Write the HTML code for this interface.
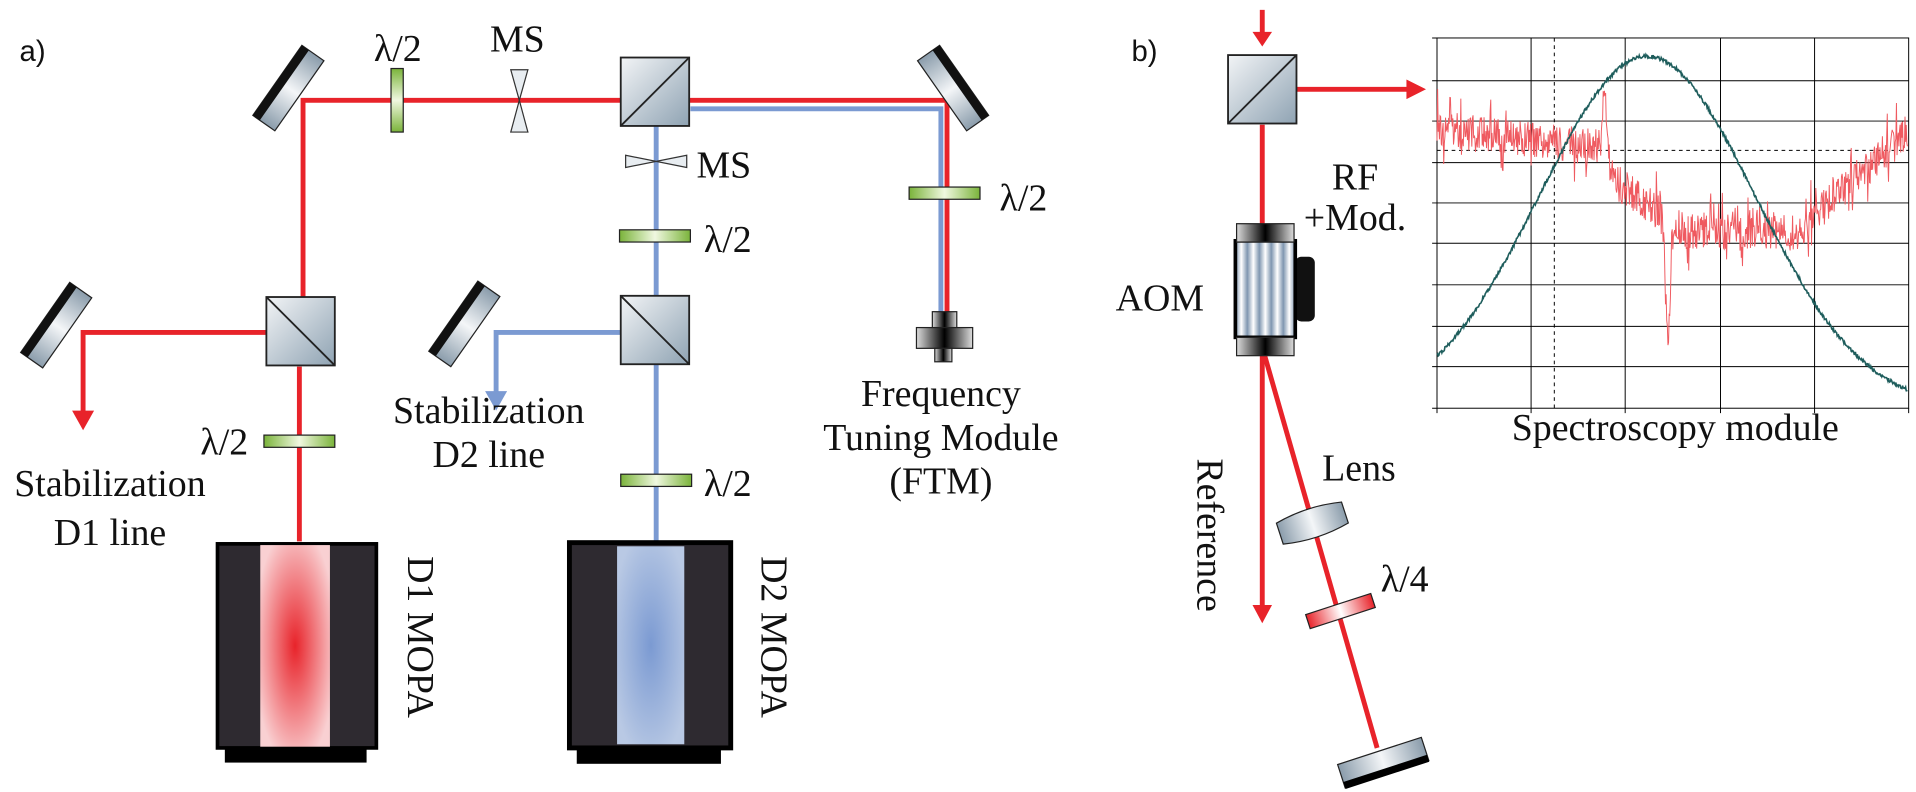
<!DOCTYPE html>
<html><head><meta charset="utf-8"><style>
html,body{margin:0;padding:0;background:#fff;}
svg{display:block;}
.t{font-family:"Liberation Serif",serif;font-size:31px;fill:#111;}
.s{font-family:"Liberation Sans",sans-serif;font-size:24px;fill:#111;}
</style></head><body>
<svg id="sv" width="1916" height="792" viewBox="0 0 1568 648" xmlns="http://www.w3.org/2000/svg">
<defs>
<linearGradient id="cube" x1="0" y1="0" x2="1" y2="1"><stop offset="0" stop-color="#f2f4f6"/><stop offset="1" stop-color="#8fa3b3"/></linearGradient>
<linearGradient id="mir" x1="0" y1="0" x2="1" y2="0"><stop offset="0" stop-color="#8a9cab"/><stop offset=".5" stop-color="#f4f6f8"/><stop offset="1" stop-color="#8a9cab"/></linearGradient>
<linearGradient id="grn" x1="0" y1="0" x2="1" y2="0"><stop offset="0" stop-color="#7ab33a"/><stop offset=".5" stop-color="#f0f8e0"/><stop offset="1" stop-color="#7ab33a"/></linearGradient>
<linearGradient id="grnv" x1="0" y1="0" x2="0" y2="1"><stop offset="0" stop-color="#7ab33a"/><stop offset=".5" stop-color="#f0f8e0"/><stop offset="1" stop-color="#7ab33a"/></linearGradient>
<linearGradient id="redp" x1="0" y1="0" x2="1" y2="0"><stop offset="0" stop-color="#e8232a"/><stop offset=".5" stop-color="#fff"/><stop offset="1" stop-color="#e8232a"/></linearGradient>
<radialGradient id="rband" cx=".5" cy=".5" r=".6"><stop offset="0" stop-color="#e8232a"/><stop offset="1" stop-color="#f9d0d2"/></radialGradient>
<radialGradient id="bband" cx=".5" cy=".5" r=".6"><stop offset="0" stop-color="#7b9ad2"/><stop offset="1" stop-color="#b9c9e4"/></radialGradient>
<linearGradient id="blk" x1="0" y1="0" x2="1" y2="0"><stop offset="0" stop-color="#ddd"/><stop offset=".5" stop-color="#000"/><stop offset="1" stop-color="#ddd"/></linearGradient>
<linearGradient id="aom" x1="0" y1="0" x2="1" y2="0"><stop offset="0" stop-color="#7f96b0"/><stop offset=".1" stop-color="#fff"/><stop offset=".2" stop-color="#7f96b0"/><stop offset=".3" stop-color="#fff"/><stop offset=".4" stop-color="#7f96b0"/><stop offset=".5" stop-color="#fff"/><stop offset=".6" stop-color="#7f96b0"/><stop offset=".7" stop-color="#fff"/><stop offset=".8" stop-color="#7f96b0"/><stop offset=".9" stop-color="#fff"/><stop offset="1" stop-color="#7f96b0"/></linearGradient>
<g id="mirror"><rect x="-35" y="-11" width="70" height="22" fill="url(#mir)" stroke="#222" stroke-width="1"/><rect x="-35" y="-11" width="70" height="7" fill="#111"/></g>
<g id="cubeS"><rect x="0" y="0" width="56" height="56" fill="url(#cube)" stroke="#222" stroke-width="1.5"/></g>
</defs>
<text class="s" x="16" y="50">a)</text>
<text class="s" x="926" y="50">b)</text>

<g fill="none" stroke-width="4">
<path d="M565 89 H770 V255" stroke="#7b9ad2"/>
<path d="M248 270 V82 H775 V255" stroke="#e8232a"/>
<path d="M537 103 V443" stroke="#7b9ad2"/>
<path d="M508 272 H406 V322" stroke="#7b9ad2"/>
<path d="M218 272 H68 V338" stroke="#e8232a"/>
<path d="M245 300 V443" stroke="#e8232a"/>
</g>
<polygon points="397,320 415,320 406,336" fill="#7b9ad2"/>
<polygon points="59,336 77,336 68,352" fill="#e8232a"/>

<use href="#mirror" transform="translate(236,72) rotate(-55)"/>
<use href="#mirror" transform="translate(780,72) rotate(55) scale(-1,1)"/>
<use href="#mirror" transform="translate(380,265) rotate(-55)"/>
<use href="#mirror" transform="translate(46,266) rotate(-55)"/>

<use href="#cubeS" transform="translate(508,47)"/><line x1="508" y1="103" x2="564" y2="47" stroke="#222" stroke-width="1.5"/>
<use href="#cubeS" transform="translate(508,242)"/><line x1="508" y1="242" x2="564" y2="298" stroke="#222" stroke-width="1.5"/>
<use href="#cubeS" transform="translate(218,243)"/><line x1="218" y1="243" x2="274" y2="299" stroke="#222" stroke-width="1.5"/>

<rect x="320" y="56" width="10" height="52" fill="url(#grnv)" stroke="#222"/>
<rect x="744" y="153" width="58" height="10" fill="url(#grn)" stroke="#222"/>
<rect x="507" y="188" width="58" height="10" fill="url(#grn)" stroke="#222"/>
<rect x="508" y="388" width="58" height="10" fill="url(#grn)" stroke="#222"/>
<rect x="216" y="356" width="58" height="10" fill="url(#grn)" stroke="#222"/>
<polygon points="418,57 432,57 425,82 432,108 418,108 425,82" fill="#e8edf1" stroke="#333"/>
<polygon points="512,127 512,137 537,132 562,137 562,127 537,132" fill="#e8edf1" stroke="#333"/>

<text class="t" x="306" y="50">λ/2</text>
<text class="t" x="401" y="42">MS</text>
<text class="t" x="570" y="145">MS</text>
<text class="t" x="576" y="206">λ/2</text>
<text class="t" x="576" y="406">λ/2</text>
<text class="t" x="818" y="172">λ/2</text>
<text class="t" x="164" y="372">λ/2</text>

<rect x="763" y="255" width="20" height="14" fill="url(#blk)" stroke="#222"/>
<rect x="750" y="268" width="46" height="17" fill="url(#blk)" stroke="#222"/>
<rect x="765" y="285" width="14" height="11" fill="url(#blk)" stroke="#222"/>
<g class="t" text-anchor="middle">
<text x="770" y="332">Frequency</text>
<text x="770" y="368">Tuning Module</text>
<text x="770" y="404">(FTM)</text>
<text x="400" y="346">Stabilization</text>
<text x="400" y="382">D2 line</text>
<text x="90" y="406">Stabilization</text>
<text x="90" y="446">D1 line</text>
</g>

<rect x="178" y="445" width="130" height="167" fill="#2e2a30" stroke="#000" stroke-width="3"/>
<rect x="213" y="446" width="57" height="165" fill="url(#rband)"/>
<rect x="184" y="612" width="116" height="12" fill="#000"/>
<rect x="466" y="444" width="132" height="168" fill="#2e2a30" stroke="#000" stroke-width="4"/>
<rect x="505" y="447" width="55" height="162" fill="url(#bband)"/>
<rect x="472" y="612" width="118" height="13" fill="#000"/>
<text class="t" transform="translate(334,455) rotate(90)">D1 MOPA</text>
<text class="t" transform="translate(623,455) rotate(90)">D2 MOPA</text>

<g fill="none" stroke="#e8232a" stroke-width="4">
<path d="M1033 8 V28"/>
<path d="M1033 102 V183"/>
<path d="M1061 73 H1153"/>
<path d="M1033 291 V497"/>
<path d="M1035 291 L1127 612"/>
</g>
<polygon points="1025,26 1041,26 1033,38" fill="#e8232a"/>
<polygon points="1151,65 1151,81 1167,73" fill="#e8232a"/>
<polygon points="1025,495 1041,495 1033,510" fill="#e8232a"/>
<use href="#cubeS" transform="translate(1005,45)"/><line x1="1005" y1="101" x2="1061" y2="45" stroke="#222" stroke-width="1.5"/>
<rect x="1060" y="210" width="16" height="53" rx="5" fill="#111"/>
<rect x="1011" y="197" width="49" height="79" fill="url(#aom)" stroke="#000" stroke-width="3"/>
<rect x="1012" y="183" width="47" height="15" fill="url(#blk)" stroke="#222"/>
<rect x="1012" y="276" width="47" height="15" fill="url(#blk)" stroke="#222"/>
<text class="t" x="1090" y="155">RF</text>
<text class="t" x="1067" y="188">+Mod.</text>
<text class="t" x="913" y="254">AOM</text>
<text class="t" transform="translate(980,375) rotate(90)">Reference</text>
<g transform="translate(1074,428) rotate(-18)"><path d="M-28,-9 Q0,-15 28,-9 V9 Q0,15 -28,9 Z" fill="url(#mir)" stroke="#222"/></g>
<text class="t" x="1082" y="393">Lens</text>
<g transform="translate(1097,500) rotate(-18)"><rect x="-28" y="-6" width="56" height="12" fill="url(#redp)" stroke="#222"/></g>
<text class="t" x="1130" y="484">λ/4</text>
<g transform="translate(1132,624) rotate(-18)"><rect x="-36" y="-10" width="72" height="20" fill="url(#mir)" stroke="#222"/><rect x="-36" y="5" width="72" height="6" fill="#000"/></g>

<g stroke="#000" stroke-width="0.8" fill="none">
<rect x="1176" y="31" width="386" height="303"/>
<path d="M1253 31V334M1330 31V334M1408 31V334M1485 31V334"/>
<path d="M1176 66H1562M1176 99H1562M1176 133H1562M1176 166H1562M1176 199H1562M1176 233H1562M1176 267H1562M1176 300H1562"/>
<path d="M1272 31V334M1176 123H1562" stroke-dasharray="3,3"/>
<path d="M1172 31H1176M1172 66H1176M1172 99H1176M1172 133H1176M1172 166H1176M1172 199H1176M1172 233H1176M1172 267H1176M1172 300H1176M1172 334H1176M1176 334V338M1253 334V338M1330 334V338M1408 334V338M1485 334V338M1562 334V338"/>
</g>
<path id="red" fill="none" stroke="#ef5a60" stroke-width="0.8"/>
<path id="grnc" fill="none" stroke="#1e5d5c" stroke-width="1.3"/>
<text class="t" x="1371" y="360" text-anchor="middle">Spectroscopy module</text>
</svg>
<script>
var s=12345;function r(){s=(s*16807)%2147483647;return s/2147483647;}
var g="",d="";
for(var i=0;i<=770;i++){var x=1176+i*0.5;
var u=(x-1348)/88;var y=334-(334-46)*Math.exp(-u*u/2);
y=Math.min(y,330);y+=(r()-0.5)*3;
g+=(i?"L":"M")+x.toFixed(1)+" "+y.toFixed(1);
var b;
if(x<1310)b=105+(x-1176)*0.12;else if(x<1380)b=140+(x-1310)*0.7;else if(x<1470)b=190;else b=190-(x-1470)*0.9;
var pk=0;pk-=60*Math.exp(-Math.pow((x-1313)/3,2));pk+=100*Math.exp(-Math.pow((x-1365)/2.5,2));pk-=20*Math.exp(-Math.pow((x-1418)/2,2));
var yy=b+pk+(r()-0.5)*30*(r()<0.15?2.2:1);
d+=(i?"L":"M")+x.toFixed(1)+" "+Math.max(32,Math.min(333,yy)).toFixed(1);}
document.getElementById("grnc").setAttribute("d",g);
document.getElementById("red").setAttribute("d",d);
</script>
</body></html>
